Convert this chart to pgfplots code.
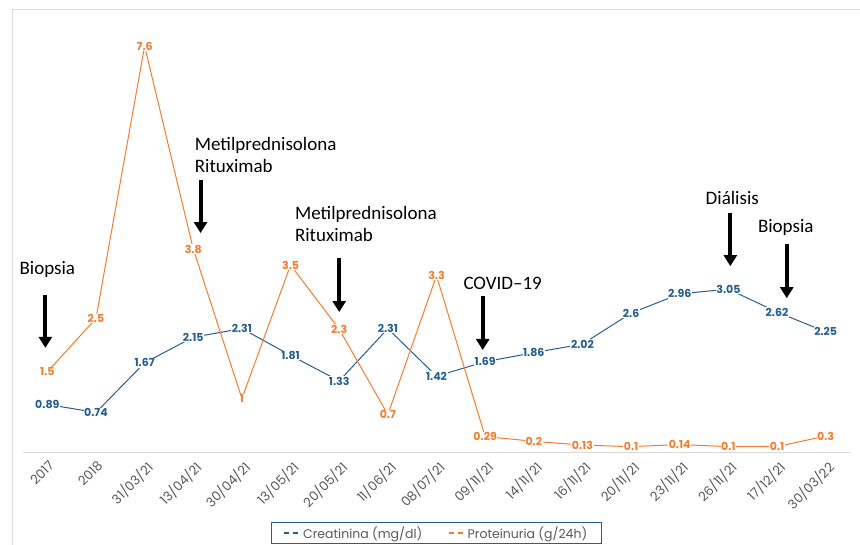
\documentclass[border=0pt]{standalone}
\usepackage{pgfplots}
\pgfplotsset{compat=1.18}
\usetikzlibrary{arrows.meta}
\usepackage{fontspec}
\setmainfont{Poppins}
\newfontfamily\calibri{Carlito}

\definecolor{creat}{RGB}{37,94,145}
\definecolor{prot}{RGB}{242,125,48}
\definecolor{ticktext}{RGB}{89,89,89}

\begin{document}
\begin{tikzpicture}
\useasboundingbox (-23pt,-92pt) rectangle (837pt,452pt);
\draw[black!15, line width=0.8pt] (-11pt,-108pt) rectangle (839pt,443pt);
\begin{axis}[
    at={(0,0)}, anchor=south west,
    scale only axis,
    width=827pt, height=438pt,
    xmin=-0.5, xmax=16.5,
    ymin=0, ymax=8.2,
    hide y axis,
    axis x line=bottom,
    axis line style={-, black!15, line width=0.8pt},
    xtick={0,...,16},
    xticklabels={2017,2018,31/03/21,13/04/21,30/04/21,13/05/21,20/05/21,11/06/21,08/07/21,09/11/21,14/11/21,16/11/21,20/11/21,23/11/21,26/11/21,17/12/21,30/03/22},
    xtick style={draw=none},
    xticklabel style={rotate=45, anchor=north east, text=ticktext, font=\fontsize{13}{13}\selectfont, yshift=-1pt},
    clip=false,
    nodes near coords,
    point meta=explicit symbolic,
    every node near coord/.append style={anchor=center, font=\fontsize{11}{11}\selectfont\bfseries, fill=white, inner sep=0.6pt},
    legend columns=2,
    legend style={at={(0.5,-0.16)}, anchor=north, draw=creat, line width=0.6pt, text=ticktext,
        font=\fontsize{12.5}{12.5}\selectfont, /tikz/every even column/.append style={column sep=24pt},
        inner xsep=12pt, inner ysep=2pt},
    legend image code/.code={\draw[#1, line width=1.4pt, dash pattern=on 5pt off 4pt] (0pt,0pt) -- (16pt,0pt);},
]
\addplot[creat, line width=1pt, mark=none, every node near coord/.append style={text=creat}]
  table[meta=lab] {
x y lab
0 0.89 0.89
1 0.74 0.74
2 1.67 1.67
3 2.15 2.15
4 2.31 2.31
5 1.81 1.81
6 1.33 1.33
7 2.31 2.31
8 1.42 1.42
9 1.69 1.69
10 1.86 1.86
11 2.02 2.02
12 2.6 2.6
13 2.96 2.96
14 3.05 3.05
15 2.62 2.62
16 2.25 2.25
};
\addlegendentry{Creatinina (mg/dl)}
\addplot[prot, line width=1pt, mark=none, every node near coord/.append style={text=prot}]
  table[meta=lab] {
x y lab
0 1.5 1.5
1 2.5 2.5
2 7.6 7.6
3 3.8 3.8
4 1 1
5 3.5 3.5
6 2.3 2.3
7 0.7 0.7
8 3.3 3.3
9 0.29 0.29
10 0.2 0.2
11 0.13 0.13
12 0.1 0.1
13 0.14 0.14
14 0.1 0.1
15 0.1 0.1
16 0.3 0.3
};
\addlegendentry{Proteinuria (g/24h)}

% annotations
\tikzset{ann/.style={line width=4pt, -{Triangle[width=13pt,length=11pt]}}}
\node[font=\calibri\fontsize{19}{22}\selectfont] at (axis cs:0,3.41) {Biopsia};
\draw[ann] (axis cs:-0.04,2.94) -- (axis cs:-0.04,1.95);
\node[font=\calibri\fontsize{19}{22}\selectfont, align=left, anchor=west] at (axis cs:2.96,5.56) {Metilprednisolona\\Rituximab};
\draw[ann] (axis cs:3.15,5.09) -- (axis cs:3.15,4.10);
\node[font=\calibri\fontsize{19}{22}\selectfont, align=left, anchor=west] at (axis cs:5.02,4.26) {Metilprednisolona\\Rituximab};
\draw[ann] (axis cs:6.0,3.63) -- (axis cs:6.0,2.62);
\node[font=\calibri\fontsize{19}{22}\selectfont] at (axis cs:9.36,3.15) {COVID–19};
\draw[ann] (axis cs:8.95,2.92) -- (axis cs:8.95,1.91);
\node[font=\calibri\fontsize{19}{22}\selectfont] at (axis cs:14.08,4.76) {Diálisis};
\draw[ann] (axis cs:14.04,4.48) -- (axis cs:14.04,3.48);
\node[font=\calibri\fontsize{19}{22}\selectfont] at (axis cs:15.18,4.21) {Biopsia};
\draw[ann] (axis cs:15.2,3.9) -- (axis cs:15.2,2.88);
\end{axis}
\end{tikzpicture}
\end{document}
